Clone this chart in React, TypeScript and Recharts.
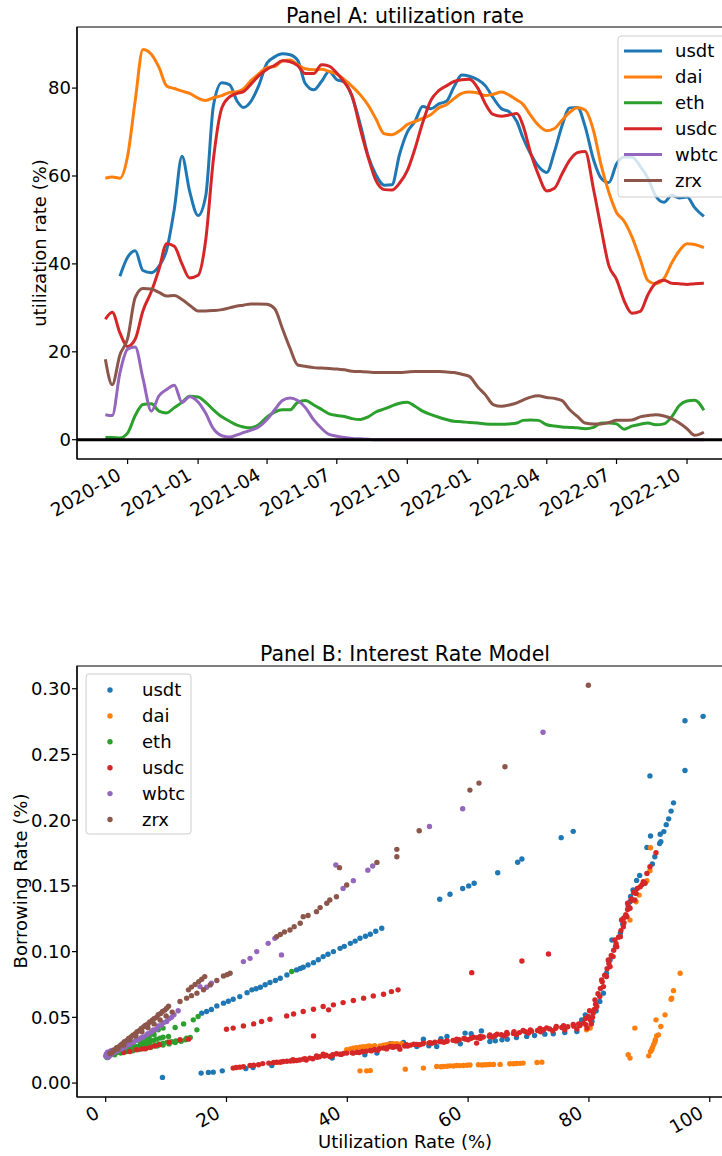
import React from 'react';
import {
  LineChart,
  Line,
  ScatterChart,
  Scatter,
  XAxis,
  YAxis,
  ReferenceLine,
  ReferenceArea,
} from 'recharts';

const FONT = '"DejaVu Sans", Verdana, sans-serif';

// series names and colours (matplotlib tab10)
const names = ['usdt', 'dai', 'eth', 'usdc', 'wbtc', 'zrx'];
const colors = ['#1f77b4', '#ff7f0e', '#2ca02c', '#d62728', '#9467bd', '#8c564b'];

// ---------- Panel A: utilization rate (%) ----------
const dates = [
  '2020-09-02', '2020-09-11', '2020-09-21',
  '2020-10-01', '2020-10-11', '2020-10-21', '2020-11-01', '2020-11-11', '2020-11-21',
  '2020-12-01', '2020-12-11', '2020-12-21', '2021-01-01', '2021-01-11', '2021-01-21',
  '2021-02-01', '2021-02-11', '2021-02-21', '2021-03-01', '2021-03-11', '2021-03-21',
  '2021-04-01', '2021-04-11', '2021-04-21', '2021-05-01', '2021-05-11', '2021-05-21',
  '2021-06-01', '2021-06-11', '2021-06-21', '2021-07-01', '2021-07-11', '2021-07-21',
  '2021-08-01', '2021-08-11', '2021-08-21', '2021-09-01', '2021-09-11', '2021-09-21',
  '2021-10-01', '2021-10-11', '2021-10-21', '2021-11-01', '2021-11-11', '2021-11-21',
  '2021-12-01', '2021-12-11', '2021-12-21', '2022-01-01', '2022-01-11', '2022-01-21',
  '2022-02-01', '2022-02-11', '2022-02-21', '2022-03-01', '2022-03-11', '2022-03-21',
  '2022-04-01', '2022-04-11', '2022-04-21', '2022-05-01', '2022-05-11', '2022-05-21',
  '2022-06-01', '2022-06-11', '2022-06-21', '2022-07-01', '2022-07-11', '2022-07-21',
  '2022-08-01', '2022-08-11', '2022-08-21', '2022-09-01', '2022-09-11', '2022-09-21',
  '2022-10-01', '2022-10-11', '2022-10-23',
];

const usdt = [
  null, null, 37.2, 41.5, 43, 38.5, 38, 39.5, 43.2, 52.5,
  64.5, 56.5, 51, 55.5, 76, 81.2, 80.8, 77, 75.6, 77,
  80.5, 85.7, 87.1, 87.8, 87.6, 86.3, 81, 79.6, 81.5, 83.8,
  81.9, 81.4, 78, 71.5, 64.5, 60.3, 57.9, 58, 65, 70,
  72.4, 75.8, 75.3, 76.4, 77, 80.3, 83, 82.7, 81.9, 80.5,
  77.8, 75.3, 74.6, 72.4, 68.7, 65, 62.2, 60.8, 65.5, 71.5,
  75.5, 75.6, 71.3, 63.7, 59.5, 58.5, 62.7, 64.3, 64.3, 62.2,
  59.5, 55.5, 54, 55.6, 55, 55.2, 52.8, 50.8,
];
const dai = [
  59.5, 59.8, 59.5, 64.5, 77.2, 88.8, 87.7, 84.7, 80.5, 79.9,
  79.3, 78.8, 77.7, 77.2, 77.8, 78.3, 79, 79.2, 79.8, 81.7,
  83.2, 84.7, 84.9, 86.2, 86.4, 85.3, 84.4, 84.2, 84.3, 83.8,
  83.2, 81.9, 80.4, 78.4, 76.1, 73, 69.6, 69.4, 70.3, 71.7,
  72.4, 73.1, 74, 75.5, 76.2, 77.6, 78.8, 79.1, 78.9, 78.3,
  78.6, 79.1, 78.4, 77.3, 76.3, 73.8, 71.6, 70.3, 70.8, 72.7,
  74.5, 75.5, 75, 70.3, 62.4, 56.3, 51.7, 49.7, 46.2, 41,
  36.2, 35.5, 36.7, 40.2, 43, 44.6, 44.4, 43.7,
];
const eth = [
  0.5, 0.5, 0.4, 1.5, 5.5, 8, 8.2, 6.5, 6.1, 7.3,
  8.5, 9.9, 9.7, 8.5, 6.8, 5.2, 4.2, 3.3, 2.9, 2.7,
  3.4, 5.2, 6.3, 6.8, 6.8, 8.5, 8.9, 7.9, 6.9, 5.9,
  5.5, 5.3, 4.8, 4.6, 5.2, 6.3, 7, 7.7, 8.3, 8.5,
  7.6, 6.5, 5.7, 5.1, 4.6, 4.2, 4.1, 3.9, 3.8, 3.6,
  3.5, 3.5, 3.6, 3.8, 4.4, 4.5, 4.4, 3.4, 3.1, 2.9,
  2.8, 2.7, 2.5, 2.8, 3.8, 3.8, 3.6, 2.4, 3.1, 3.5,
  3.8, 3.4, 3.6, 5.2, 7.8, 8.8, 9, 6.7,
];
const usdc = [
  27.4, 29, 24.3, 21.2, 22.9, 29.3, 33.7, 38.8, 44.6, 44,
  40, 36.8, 37.4, 45.5, 63.8, 75.5, 78, 78.8, 79.2, 80.9,
  82.8, 84.3, 85.2, 86.2, 86, 85.1, 83.3, 83.3, 85.3, 85,
  83.4, 81.3, 78.2, 70.5, 64.2, 59, 56.9, 56.8, 58.4, 61.2,
  66.2, 72.1, 77.3, 79.4, 80.5, 81.5, 81.9, 82, 80, 76.4,
  74, 73.6, 73.9, 74.2, 71.5, 65.2, 60.3, 56.6, 57.2, 60.5,
  63.6, 65.3, 65.6, 57, 48, 39.6, 36.5, 31.6, 28.8, 29.2,
  33, 35.6, 36.3, 35.6, 35.5, 35.3, 35.5, 35.6,
];
const wbtc = [
  5.7, 5.5, 15.2, 20.6, 21.1, 14, 6.5, 10, 11.4, 12.4,
  8.5, 9.8, 8.6, 6, 2.5, 0.9, 0.6, 1.1, 1.6, 2.2,
  2.9, 4.6, 6.8, 8.9, 9.5, 8.9, 7.3, 4.5, 2.6, 1.2,
  0.8, 0.5, 0.3, 0.2, 0.1, 0, 0, 0, 0, 0,
  0, 0, 0, 0, 0, 0, 0, 0, 0, 0,
  0, 0, 0, 0, 0, 0, 0, 0, 0, 0,
  0, 0, 0, 0, 0, 0, 0, 0, 0, 0,
  0, 0, 0, 0, 0, 0, 0, 0,
];
const zrx = [
  18.3, 12.5, 19.3, 23, 32.4, 34.4, 34.3, 33.5, 32.7, 32.8,
  31.9, 30.6, 29.3, 29.3, 29.4, 29.6, 30, 30.4, 30.6, 30.9,
  30.9, 30.8, 29.8, 25.3, 20.8, 17, 16.7, 16.4, 16.3, 16.2,
  16.1, 15.9, 15.6, 15.5, 15.4, 15.3, 15.3, 15.3, 15.3, 15.4,
  15.5, 15.5, 15.5, 15.5, 15.4, 15.3, 14.9, 14.4, 12, 10.2,
  8, 7.6, 7.9, 8.4, 9, 9.7, 10, 9.6, 9.4, 8.9,
  6.8, 5.3, 3.8, 3.6, 3.6, 3.9, 4.4, 4.4, 4.5, 5.2,
  5.5, 5.7, 5.4, 4.8, 3.8, 2.5, 1.0, 1.7,
];

const xTicksA = [
  '2020-10-01', '2021-01-01', '2021-04-01', '2021-07-01', '2021-10-01',
  '2022-01-01', '2022-04-01', '2022-07-01', '2022-10-01',
];
const yTicksA = [0, 20, 40, 60, 80];

// ---------- Panel B: borrowing rate vs utilization ----------
const xTicksB = [0, 20, 40, 60, 80, 100];
const yTicksB = [0, 0.05, 0.1, 0.15, 0.2, 0.25, 0.3];

const usdtPts = [
  [15.9, 0.0532], [16.7, 0.0544], [17.5, 0.056], [18.4, 0.0587], [19.5, 0.0608], [20.3, 0.0622],
  [21.1, 0.0638], [22.2, 0.0658], [23.4, 0.0688], [24.2, 0.0709], [24.9, 0.0718], [25.6, 0.0729],
  [26.4, 0.0748], [27.2, 0.0765], [28.1, 0.078], [28.9, 0.0797], [30.0, 0.0823], [31.6, 0.0861],
  [32.2, 0.0872], [32.7, 0.0881], [33.5, 0.0899], [34.4, 0.0916], [35.2, 0.0938], [36, 0.0962],
  [36.8, 0.098], [37.7, 0.1], [38.8, 0.1025], [39.5, 0.104], [40.5, 0.1063], [41.3, 0.108],
  [42.1, 0.1102], [43.0, 0.1117], [43.8, 0.1132], [44.7, 0.1155], [45.7, 0.1178],
  [55.3, 0.1398], [57, 0.1436], [59.1, 0.148], [60.1, 0.15], [61, 0.152], [64.9, 0.16],
  [68.2, 0.168], [68.9, 0.1705], [75.4, 0.1867], [77.4, 0.1915],
  [9.4, 0.0043], [15.8, 0.0076], [17, 0.0081], [17.8, 0.0083], [19.3, 0.0093], [23.2, 0.0111],
  [24.4, 0.0119], [27.5, 0.0134], [37.5, 0.019], [42.9, 0.0215], [44.9, 0.0228], [47.1, 0.0299],
  [49.3, 0.0309], [51.5, 0.0278], [52.6, 0.0334], [53.5, 0.0283], [54.8, 0.0278], [55.5, 0.0338],
  [56.5, 0.0355], [58.7, 0.0299], [59.5, 0.038], [60.5, 0.0375], [62.2, 0.0397], [63.6, 0.0316],
  [64.5, 0.0322], [65.6, 0.0329], [66.5, 0.0333], [68, 0.0347], [69.7, 0.0355], [71, 0.0362],
  [72.7, 0.0372], [74.1, 0.0375], [76, 0.0385], [78, 0.0392], [79.4, 0.0519], [78.8, 0.048],
  [80.5, 0.047], [81.2, 0.055], [81.8, 0.062], [82.4, 0.0684], [82.9, 0.0835], [83.5, 0.0937],
  [83.8, 0.1089], [84.4, 0.104], [85.2, 0.114], [85.6, 0.121], [86, 0.1266], [86.5, 0.1347],
  [86.8, 0.138], [86.9, 0.1419], [87.3, 0.1469], [87.9, 0.1542], [88.4, 0.158], [89.6, 0.1793],
  [90.1, 0.2337], [90.2, 0.188], [90.5, 0.1667], [90.9, 0.1722], [91.7, 0.1823], [91.8, 0.1893],
  [91.9, 0.1837], [92.4, 0.1913], [92.8, 0.1966], [93.2, 0.201], [93.6, 0.2069], [94, 0.2132],
  [95.9, 0.2378], [95.9, 0.2756], [98.9, 0.279],
];
const daiPts = [
  [28.8, 0.0157], [39.9, 0.0253], [40.5, 0.026], [41, 0.0266], [41.5, 0.027], [42.1, 0.0273],
  [42.6, 0.0276], [43.2, 0.0278], [43.6, 0.0282], [44, 0.0278], [44.5, 0.0285], [45.4, 0.0283],
  [46, 0.0288], [46.5, 0.0291], [47, 0.0296], [47.6, 0.0299], [48.2, 0.03], [49, 0.03],
  [79.6, 0.0405], [80.2, 0.0418],
  [42.1, 0.0093], [43.2, 0.0093], [43.8, 0.0095], [49.6, 0.0106], [52.6, 0.0114], [54.8, 0.0126],
  [55.5, 0.0124], [55.9, 0.0126], [56.5, 0.0128], [57, 0.0131], [57.6, 0.013], [58.1, 0.0134],
  [58.6, 0.0133], [59.2, 0.0134], [59.8, 0.0136], [60.3, 0.0137], [61.7, 0.0139], [62.3, 0.0138],
  [62.8, 0.0139], [63.3, 0.014], [63.6, 0.0142], [64.2, 0.0141], [65.3, 0.0142], [66.9, 0.0147],
  [67.5, 0.0147], [68, 0.0149], [68.6, 0.015], [69.1, 0.0152], [71.4, 0.0157], [72.2, 0.0159],
  [87.6, 0.0418], [86.5, 0.0215], [86.8, 0.019], [89.9, 0.0207], [90.2, 0.024], [90.4, 0.0253],
  [90.5, 0.027], [90.7, 0.0291], [90.9, 0.031], [91, 0.0329], [91.2, 0.0359], [91.5, 0.0367],
  [91.9, 0.043], [91.1, 0.0481], [92.6, 0.0519], [93.6, 0.0638], [93.7, 0.0646], [94, 0.0703],
  [95.1, 0.0836],
  [86.8, 0.124], [87.8, 0.138], [88.3, 0.143], [89.6, 0.154], [90.1, 0.1616], [90.2, 0.179],
];
const ethPts = [
  [0.2, 0.0195], [0.6, 0.0205], [1.3, 0.0228], [2, 0.0235], [2.6, 0.024], [3.3, 0.0247],
  [4, 0.0253], [4.6, 0.026], [5.3, 0.0265], [6, 0.027], [6.8, 0.0278], [7.5, 0.0285],
  [8.2, 0.029], [8.8, 0.0297], [9.5, 0.0304], [10.2, 0.031], [10.9, 0.0315], [11.6, 0.032],
  [12.3, 0.0324], [13.4, 0.0342], [14, 0.0347],
  [1, 0.0225], [1.8, 0.024], [2.5, 0.0252], [3.2, 0.026], [4, 0.0268], [4.6, 0.0275],
  [5.1, 0.0278], [5.7, 0.029], [6.2, 0.0299], [6.8, 0.0308], [7.3, 0.0316], [7.9, 0.0325],
  [8.4, 0.0334], [9, 0.0342], [9.5, 0.0349], [10.4, 0.0355],
  [1.5, 0.0215], [2.5, 0.0228], [3.5, 0.024], [4.5, 0.0245], [5.5, 0.0255], [6.5, 0.0262],
  [7.5, 0.0272], [8.5, 0.0282], [9.5, 0.029], [10.5, 0.0298], [11.5, 0.0308], [12.5, 0.0318],
  [13.2, 0.033], [5.8, 0.031], [6.5, 0.033], [7.2, 0.0345], [4.3, 0.029], [3.8, 0.0275],
  [2.8, 0.0262], [8, 0.037],
  [2.2, 0.026], [3, 0.028], [3.6, 0.0295], [5, 0.0325],
  [6.8, 0.0355], [7.3, 0.037], [7.9, 0.0385], [8.7, 0.0405], [9.5, 0.0418], [11.5, 0.0423],
  [12.9, 0.045], [14.5, 0.0481], [15.3, 0.0506], [15.1, 0.0405], [30.8, 0.0849],
];
const usdcPts = [
  [3, 0.0232], [4, 0.024], [5.1, 0.0253], [6, 0.026], [6.6, 0.0262], [7.3, 0.027],
  [8.1, 0.0282], [8.9, 0.0291], [10.5, 0.031], [12.3, 0.0329], [13.7, 0.0334],
  [20, 0.041], [21.1, 0.0418], [22.8, 0.0435], [24.5, 0.045], [25.8, 0.0468], [27.2, 0.0486],
  [29.96, 0.0511], [31.1, 0.0526], [32.7, 0.0544], [34.4, 0.0562], [36, 0.0582], [36.9, 0.0557],
  [37.7, 0.0595], [39.3, 0.0612], [41, 0.0628], [42.7, 0.0646], [44.3, 0.0663], [46, 0.0676],
  [47.3, 0.0696], [48.4, 0.0709], [34.4, 0.0359],
  [21.1, 0.0114], [21.6, 0.0118], [22.2, 0.0121], [22.8, 0.0125], [23.9, 0.0134], [24.5, 0.0136],
  [25.3, 0.0139], [27.8, 0.0157], [28.3, 0.0158], [29.4, 0.0164], [30, 0.0166], [30.6, 0.0168],
  [31.1, 0.017], [31.6, 0.0172], [32.1, 0.0176], [32.7, 0.0182], [33.2, 0.0175], [33.8, 0.019],
  [34.3, 0.0185], [34.9, 0.0207], [35.4, 0.02], [36, 0.022], [36.5, 0.0212], [37.1, 0.0202],
  [37.6, 0.0215], [38.2, 0.0223], [38.8, 0.022], [39.4, 0.0226], [39.9, 0.0228], [40.8, 0.023],
  [41.6, 0.0235], [42.5, 0.024], [43.1, 0.0243], [43.8, 0.0248], [44.5, 0.0255], [45.3, 0.0262],
  [46, 0.0266], [46.6, 0.027], [47.1, 0.0278], [47.7, 0.0274], [48.2, 0.0278], [48.7, 0.0258],
  [26, 0.0148], [27, 0.0152], [29, 0.016], [31, 0.0178], [33, 0.0186], [35, 0.0196],
  [36.2, 0.0205], [37.5, 0.021], [39, 0.0218], [41, 0.0228], [42, 0.0232], [44, 0.0245],
  [45, 0.025], [46.5, 0.026],
  [49.8, 0.0291], [51, 0.0295], [52.6, 0.0304], [53.7, 0.0308], [55.3, 0.0316], [56.5, 0.0322],
  [58.1, 0.0334], [59.3, 0.034], [60.9, 0.0349], [62, 0.0355], [63.6, 0.0367], [64.8, 0.0372],
  [66.4, 0.0385], [67.6, 0.039], [69.1, 0.04], [70.3, 0.0405], [71.9, 0.0415], [73, 0.042],
  [74.6, 0.043], [75.8, 0.0436], [77.4, 0.0446], [78.3, 0.045], [79.1, 0.0456],
  [47.5, 0.0272], [48.5, 0.0276], [49.5, 0.0282], [50.5, 0.0289], [51.5, 0.0294], [52.5, 0.0299],
  [53.5, 0.0304], [54.5, 0.031], [55.5, 0.0315], [56.5, 0.0318], [57.5, 0.0325], [58.5, 0.033],
  [59.5, 0.0335], [60.5, 0.0341], [61.5, 0.0346], [62.5, 0.035], [63.5, 0.0356], [64.5, 0.0362],
  [65.5, 0.0368], [66.5, 0.0373], [67.5, 0.0378], [68.5, 0.0384], [69.5, 0.039], [70.5, 0.0395],
  [71.5, 0.04], [72.5, 0.0406], [73.5, 0.0412], [74.5, 0.0417], [75.5, 0.0423], [76.5, 0.0428],
  [77.5, 0.0433], [78.5, 0.0438], [79.5, 0.0444],
  [50, 0.0282], [52, 0.0292], [54, 0.0302], [56, 0.031], [58, 0.032], [60, 0.033],
  [62, 0.034], [64, 0.035], [66, 0.036], [68, 0.037], [70, 0.038], [72, 0.039],
  [74, 0.0398], [76, 0.0405], [78, 0.0412], [79.7, 0.0418],
  [80.2, 0.0481], [80.7, 0.0532], [81.3, 0.0582], [81.8, 0.0658], [82.4, 0.0734], [82.9, 0.081],
  [83.5, 0.0886], [84, 0.0962], [84.6, 0.1038], [85.2, 0.1114], [85.7, 0.119], [86.3, 0.1266],
  [86.8, 0.133], [87.6, 0.1393],
  [80.4, 0.045], [80.6, 0.05], [80.9, 0.056], [81.1, 0.06], [81.5, 0.068], [81.9, 0.072],
  [82.2, 0.077], [82.6, 0.082], [83, 0.087], [83.3, 0.091], [83.7, 0.097], [84.1, 0.101],
  [84.5, 0.106], [84.9, 0.111], [85.3, 0.116], [85.8, 0.122], [86.1, 0.128], [86.6, 0.134],
  [87, 0.14], [87.4, 0.145], [88, 0.148], [88.8, 0.151],
  [79.9, 0.0506], [81, 0.0633], [82.1, 0.0785], [83.2, 0.0937], [84.3, 0.1089], [85.4, 0.1241],
  [86.4, 0.1368], [85.7, 0.1253], [86.4, 0.132], [87.1, 0.139], [87.8, 0.1443], [88.5, 0.1494],
  [89, 0.1532], [89.3, 0.152], [89.6, 0.1595], [90.1, 0.1646], [91.1, 0.1752],
  [68.9, 0.0929], [73.3, 0.0982], [60.6, 0.084], [61.4, 0.0304], [79.4, 0.049], [80.1, 0.055],
];
const wbtcPts = [
  [0, 0.0205], [0.1, 0.022], [0.3, 0.0235], [0.5, 0.021], [0.8, 0.0245], [1.2, 0.025],
  [1.7, 0.026], [2.3, 0.027], [2.9, 0.0278], [3.5, 0.029], [4.2, 0.0305], [5.1, 0.0329],
  [5.9, 0.0345], [6.8, 0.0367], [7.6, 0.039], [8.4, 0.041], [9.2, 0.044], [10.1, 0.0468],
  [10.9, 0.05],
  [0.4, 0.0195], [0.9, 0.0215], [1.5, 0.0235], [2, 0.0245], [2.6, 0.026], [3.2, 0.0275],
  [3.9, 0.0292], [4.6, 0.031], [5.4, 0.033], [6.2, 0.035], [7, 0.0375], [7.9, 0.0405],
  [8.7, 0.0435], [9.6, 0.046], [10.5, 0.049], [11.3, 0.052], [12, 0.055],
  [15.6, 0.0734], [16.7, 0.0729], [17.5, 0.076],
  [22.8, 0.0924], [23.9, 0.0949], [25, 0.1], [26.9, 0.1063], [28, 0.1101], [29.1, 0.0975],
  [38.1, 0.1659], [39.3, 0.1481], [41, 0.154], [43.4, 0.162], [44.2, 0.1651],
  [53.6, 0.1952], [59.1, 0.2087], [72.4, 0.2669],
];
const zrxPts = [
  [0.7, 0.0225], [1.4, 0.025], [2.1, 0.0275], [2.8, 0.03], [3.5, 0.0325], [4.2, 0.035],
  [4.9, 0.0375], [5.6, 0.04], [6.3, 0.0428], [7, 0.045], [7.7, 0.0478], [8.4, 0.05],
  [9.1, 0.053], [9.8, 0.0555], [10.4, 0.0585], [13.7, 0.0709], [14.2, 0.073], [14.8, 0.075],
  [15.4, 0.0772], [15.9, 0.079], [16.4, 0.081],
  [1.2, 0.0245], [1.8, 0.027], [2.5, 0.029], [3.1, 0.0315], [3.8, 0.034], [4.5, 0.0365],
  [5.2, 0.039], [5.9, 0.0415], [6.6, 0.044], [7.3, 0.0465], [8, 0.049], [8.7, 0.052],
  [9.4, 0.0545], [10.1, 0.057],
  [28.3, 0.1114], [28.9, 0.113], [29.6, 0.115], [30.5, 0.1165], [31.2, 0.119], [32.2, 0.1216],
  [32.7, 0.1266], [33.5, 0.1275], [34.9, 0.1304], [35.5, 0.1335], [36.6, 0.1368], [37.1, 0.1393],
  [38.2, 0.1418], [39.9, 0.1507], [38.7, 0.1639], [44.9, 0.1679], [48.2, 0.1722], [48.2, 0.1778],
  [51.9, 0.192], [60.3, 0.2229], [61.8, 0.2282], [66.1, 0.2406], [79.9, 0.3027],
  [1, 0.023], [2, 0.026], [3, 0.029], [4, 0.033], [5, 0.036], [6, 0.039],
  [7, 0.042], [8, 0.045], [9, 0.048], [10, 0.051], [11, 0.054], [12.3, 0.062],
  [13.4, 0.0646], [14.2, 0.0665], [15.1, 0.0684], [16.2, 0.071], [17.3, 0.0747], [18.4, 0.078],
  [19.5, 0.0815], [20.1, 0.0825], [20.6, 0.0836],
];

// ---------- build tables ----------
const toMs = (s: string) => Date.parse(s + 'T00:00:00Z');
const utilSeries = [usdt, dai, eth, usdc, wbtc, zrx];
const rowsA = dates.map((d, i) => {
  const row: Record<string, number | null> = { t: toMs(d) };
  names.forEach((n, k) => {
    row[n] = utilSeries[k][i];
  });
  return row;
});
const ptsB = [usdtPts, daiPts, ethPts, usdcPts, wbtcPts, zrxPts].map((arr) =>
  arr.map(([x, y]) => ({ x, y }))
);

const domAx = [toMs('2020-07-27'), toMs('2022-11-30')];
const domAy = [-4.39, 93.9];
const domBx = [-4.75, 103.85];
const domBy = [-0.0106, 0.3173];

const fmtMonth = (v: number) => new Date(v).toISOString().slice(0, 7);

const RotTick = (props: any) => {
  const { x, y, payload, fmt } = props;
  const ax = x - 5;
  const ay = y + 14.5;
  return (
    <text
      x={ax}
      y={ay}
      transform={`rotate(-30 ${ax} ${ay})`}
      textAnchor="end"
      fontFamily={FONT}
      fontSize={18.5}
      fill="#000"
    >
      {fmt(payload.value)}
    </text>
  );
};

const tickStyle = { fill: '#000', fontSize: 18, fontFamily: FONT };
const DOT_R = 2.7;

const App = () => {
  return (
    <div
      style={{
        position: 'relative',
        width: 722,
        height: 1156,
        overflow: 'hidden',
        background: '#fff',
        fontFamily: FONT,
      }}
    >
      <style>{'body{margin:0}'}</style>

      <div style={{ position: 'absolute', left: 0, top: 0 }}>
        <LineChart width={760} height={540} data={rowsA} margin={{ top: 27, right: 27, bottom: 0, left: 0 }}>
          <XAxis
            dataKey="t"
            type="number"
            domain={domAx}
            ticks={xTicksA.map(toMs)}
            interval={0}
            allowDataOverflow
            height={81}
            tickSize={5}
            tickMargin={0}
            stroke="#000"
            strokeWidth={1.2}
            tick={(p: any) => <RotTick {...p} fmt={fmtMonth} />}
          />
          <YAxis
            type="number"
            domain={domAy}
            ticks={yTicksA}
            interval={0}
            allowDataOverflow
            width={77}
            tickSize={5}
            tickMargin={1}
            stroke="#000"
            strokeWidth={1.2}
            tick={tickStyle}
          />
          <ReferenceArea
            x1={domAx[0]}
            x2={domAx[1]}
            y1={domAy[0]}
            y2={domAy[1]}
            fill="none"
            stroke="#000"
            strokeWidth={1.2}
          />
          {names.map((n, k) => (
            <Line
              key={n}
              dataKey={n}
              type="monotone"
              stroke={colors[k]}
              strokeWidth={3}
              dot={false}
              activeDot={false}
              connectNulls={false}
              isAnimationActive={false}
            />
          ))}
          <ReferenceLine y={0} stroke="#000" strokeWidth={3} />
        </LineChart>
      </div>

      <div style={{ position: 'absolute', left: 0, top: 640 }}>
        <ScatterChart width={760} height={520} margin={{ top: 26, right: 27, bottom: 0, left: 0 }}>
          <XAxis
            dataKey="x"
            type="number"
            domain={domBx}
            ticks={xTicksB}
            interval={0}
            allowDataOverflow
            height={63}
            tickSize={5}
            tickMargin={0}
            stroke="#000"
            strokeWidth={1.2}
            tick={(p: any) => <RotTick {...p} fmt={(v: number) => String(v)} />}
          />
          <YAxis
            dataKey="y"
            type="number"
            domain={domBy}
            ticks={yTicksB}
            interval={0}
            allowDataOverflow
            width={77}
            tickSize={5}
            tickMargin={1}
            stroke="#000"
            strokeWidth={1.2}
            tick={tickStyle}
            tickFormatter={(v: number) => v.toFixed(2)}
          />
          <ReferenceArea
            x1={domBx[0]}
            x2={domBx[1]}
            y1={domBy[0]}
            y2={domBy[1]}
            fill="none"
            stroke="#000"
            strokeWidth={1.2}
          />
          {names.map((n, k) => (
            <Scatter
              key={n}
              name={n}
              data={ptsB[k]}
              fill={colors[k]}
              isAnimationActive={false}
              shape={(p: any) => <circle cx={p.cx} cy={p.cy} r={DOT_R} fill={colors[k]} />}
            />
          ))}
        </ScatterChart>
      </div>

      <svg
        width={722}
        height={1156}
        style={{ position: 'absolute', left: 0, top: 0, pointerEvents: 'none' }}
        fontFamily={FONT}
      >
        <text x={405} y={23.3} textAnchor="middle" fontSize={20.5} fill="#000">
          Panel A: utilization rate
        </text>
        <text x={46} y={243} textAnchor="middle" fontSize={18} fill="#000" transform="rotate(-90 46 243)">
          utilization rate (%)
        </text>

        <g>
          <rect x={618} y={36} width={110} height={161} rx={3} fill="#fff" fillOpacity={0.8} stroke="#cccccc" />
          {names.map((n, k) => (
            <g key={n}>
              <line x1={624} x2={662} y1={51 + k * 25.9} y2={51 + k * 25.9} stroke={colors[k]} strokeWidth={3} />
              <text x={675} y={57 + k * 25.9} fontSize={18} fill="#000">
                {n}
              </text>
            </g>
          ))}
        </g>

        <text x={405} y={660.7} textAnchor="middle" fontSize={20.5} fill="#000">
          Panel B: Interest Rate Model
        </text>
        <text x={27} y={881} textAnchor="middle" fontSize={18} fill="#000" transform="rotate(-90 27 881)">
          Borrowing Rate (%)
        </text>
        <text x={405} y={1148} textAnchor="middle" fontSize={18} fill="#000">
          Utilization Rate (%)
        </text>

        <g>
          <rect x={86} y={674} width={105} height={160} rx={3} fill="#fff" fillOpacity={0.8} stroke="#cccccc" />
          {names.map((n, k) => (
            <g key={n}>
              <circle cx={110} cy={690 + k * 25.9} r={DOT_R} fill={colors[k]} />
              <text x={142} y={696 + k * 25.9} fontSize={18} fill="#000">
                {n}
              </text>
            </g>
          ))}
        </g>
      </svg>
    </div>
  );
};

export default App;
